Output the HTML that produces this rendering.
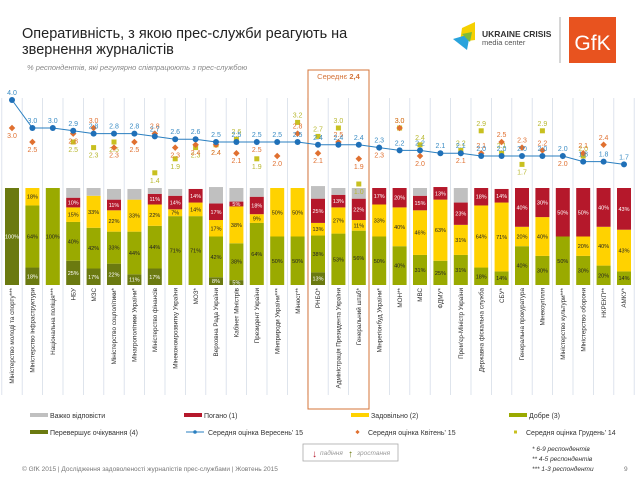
<!DOCTYPE html>
<html><head><meta charset="utf-8">
<style>
html,body{margin:0;padding:0;background:#fff;}
#wrap{position:relative;width:638px;height:479px;overflow:hidden;font-family:"Liberation Sans","DejaVu Sans",sans-serif;}
svg{position:absolute;left:0;top:0;}
</style></head>
<body>
<div id="wrap">
<svg id="chart" width="638" height="479" viewBox="0 0 638 479">
  <text x="22" y="38" font-size="14.5" fill="#222">Оперативність, з якою прес-служби реагують на</text>
  <text x="22" y="54" font-size="14.5" fill="#222">звернення журналістів</text>
  <text x="27" y="70" font-size="7.5" font-style="italic" fill="#888">% респондентів, які регулярно співпрацюють з прес-службою</text>
  <g>
    <polygon points="462,28 475,22 475,40 460,42" fill="#f5d000"/>
    <polygon points="453,39 470,34 467,50" fill="#29a3dc"/>
    <polygon points="462,34 472,32 470,42" fill="#7dbb3a"/>
    <text x="482" y="37" font-size="8.5" font-weight="bold" fill="#333">UKRAINE CRISIS</text>
    <text x="482" y="45" font-size="7.5" fill="#555">media center</text>
  </g>
  <line x1="560" y1="17" x2="560" y2="63" stroke="#999" stroke-width="0.8"/>
  <g>
    <rect x="569" y="17" width="47" height="46" fill="#e8531f"/>
    <text x="592.5" y="50" font-size="21" fill="#fff" text-anchor="middle">GfK</text>
  </g>
  <g id="grid"></g>
  <rect x="308" y="70" width="61" height="339" fill="none" stroke="#d4743a" stroke-width="1"/>
  <text x="338.5" y="79" font-size="7.5" fill="#d4743a" text-anchor="middle">Середнє <tspan font-weight="bold">2,4</tspan></text>
  <g id="bars"></g>
  <g id="lines"></g>
  <g id="labels"></g>
  <g font-size="7" fill="#333">
    <rect x="30" y="413" width="18" height="4" fill="#c0c0c0"/><text x="50" y="418">Важко відповісти</text>
    <rect x="184" y="413" width="18" height="4" fill="#b5182b"/><text x="204" y="418">Погано (1)</text>
    <rect x="351" y="413" width="18" height="4" fill="#ffd200"/><text x="371" y="418">Задовільно (2)</text>
    <rect x="509" y="413" width="18" height="4" fill="#9aaa00"/><text x="529" y="418">Добре (3)</text>
    <rect x="30" y="430" width="18" height="4" fill="#6b7a10"/><text x="50" y="435">Перевершує очікування (4)</text>
    <line x1="186" y1="432" x2="204" y2="432" stroke="#2a7fc0"/><circle cx="195" cy="432" r="1.8" fill="#2a7fc0"/><text x="208" y="435">Середня оцінка Вересень' 15</text>
    <rect x="356" y="430.5" width="3" height="3" fill="#e07030" transform="rotate(45 357.5 432)"/><text x="368" y="435">Середня оцінка Квітень' 15</text>
    <rect x="514" y="430.5" width="3" height="3" fill="#c8c020"/><text x="526" y="435">Середня оцінка  Грудень' 14</text>
  </g>
  <g>
    <rect x="303" y="444" width="95" height="17" fill="#fff" stroke="#aaa" stroke-width="0.8"/>
    <text x="312" y="457" font-size="10" fill="#b5182b">↓</text>
    <text x="320" y="455" font-size="6.5" font-style="italic" fill="#999">падіння</text>
    <text x="348" y="457" font-size="10" fill="#6b7a10">↑</text>
    <text x="357" y="455" font-size="6.5" font-style="italic" fill="#999">зростання</text>
  </g>
  <g font-size="6.5" font-style="italic" fill="#333">
    <text x="532" y="451">* 6-9 респондентів</text>
    <text x="532" y="461">** 4-5 респондентів</text>
    <text x="532" y="471">*** 1-3 респонденти</text>
  </g>
  <text x="22" y="471" font-size="6.5" fill="#777">© GfK 2015 | Дослідження задоволеності журналістів прес-службами | Жовтень 2015</text>
  <text x="624" y="471" font-size="6.5" fill="#777">9</text>
</svg>
</div>
<script>
const categories = ["Міністерство молоді та спорту***","Міністерство інфраструктури","Національна поліція***","НБУ","МЗС","Міністерство соцполітики*","Мінагрополітики України*","Міністерство фінансів","Мінекономрозвитку України","МОЗ*","Верховна Рада України","Кабінет Міністрів","Президент України","Мінприроди України***","Мінюст**","РНБО*","Адміністрація Президента України","Генеральний штаб*","Мінрегіонбуд України*","МОН**","МВС","ФДМУ*","Прем'єр-Міністр України","Державна фіскальна служба","СБУ*","Генеральна прокуратура","Мінекоугілля","Міністерство культури***","Міністерство оборони","НКРЕКП**","АМКУ*"];
const excellent = [100,18,0,25,17,22,11,17,0,0,8,5,0,0,0,13,0,0,0,0,0,0,0,0,0,0,0,0,0,0,0];
const good = [0,64,100,40,42,33,44,44,71,71,42,38,64,50,50,38,53,56,50,40,31,25,31,18,14,40,30,50,30,20,14];
const satisfactory = [0,18,0,15,33,22,33,22,7,14,17,38,9,50,50,13,27,11,33,40,46,63,31,64,71,20,40,0,20,40,43];
const bad = [0,0,0,10,0,11,0,11,14,14,17,5,18,0,0,25,13,22,17,20,15,13,23,18,14,40,30,50,50,40,43];
const hard = [0,0,0,10,8,11,11,6,7,0,17,14,9,0,0,13,7,11,0,0,8,0,15,0,0,0,0,0,0,0,0];
const sept15 = [4.0,3.0,3.0,2.9,2.8,2.8,2.8,2.7,2.6,2.6,2.5,2.5,2.5,2.5,2.5,2.4,2.4,2.4,2.3,2.2,2.2,2.1,2.1,2.0,2.0,2.0,2.0,2.0,1.8,1.8,1.7];
const apr15 = [3.0,2.5,null,2.8,3.0,2.3,2.5,2.8,2.3,2.4,2.4,2.1,2.5,2.0,2.8,2.1,2.5,1.9,2.3,3.0,2.0,null,2.1,2.1,2.5,2.3,2.2,2.0,2.1,2.4,null];
const dec14 = [null,null,null,2.5,2.3,2.5,null,1.4,1.9,2.3,2.4,2.6,1.9,null,3.2,2.7,3.0,1.0,null,3.0,2.4,null,2.2,2.9,2.1,1.7,2.9,null,2.0,null,null];

const NS="http://www.w3.org/2000/svg";
const x0=12, step=20.4, bw=14, barBottom=285, barH=97;
const xPos=i=>x0+i*step;
const yVal=v=>212-28*v;
const yPct=p=>p/100*barH;
function mk(tag,attrs,parent){const e=document.createElementNS(NS,tag);for(const k in attrs)e.setAttribute(k,attrs[k]);parent.appendChild(e);return e;}
const grid=document.getElementById('grid'),bars=document.getElementById('bars'),lines=document.getElementById('lines'),labels=document.getElementById('labels');
const fmt=v=>v.toFixed(1);

for(let i=0;i<=categories.length;i++){
  const gx=xPos(i)-step/2;
  const l=mk('line',{x1:gx,y1:98,x2:gx,y2:395,stroke:'#d6dde8','stroke-width':0.8},grid);
  
  
}

const segs=[[excellent,'#6b7a10','#fff','excellent'],[good,'#9aaa00','#222','good'],[satisfactory,'#ffd200','#222','satisfactory'],[bad,'#b5182b','#fff','bad'],[hard,'#c0c0c0','#222','hard']];
categories.forEach((c,i)=>{
  let y=barBottom;
  segs.forEach(([arr,col,tc,nm])=>{
    const v=arr[i]; if(!v) return;
    const h=yPct(v); y-=h;
    const r=mk('rect',{x:xPos(i)-bw/2,y:y,width:bw,height:h,fill:col},bars);
    
    
    if(nm!=='hard' && v>=5){
      const t=mk('text',{x:xPos(i),y:y+h/2+2,'font-size':5.5,'text-anchor':'middle',fill:tc},bars);
      t.textContent=v+'%';
      
      
    }
  });
  const t=mk('text',{x:0,y:0,'font-size':6.3,fill:'#333','text-anchor':'end',transform:`translate(${xPos(i)+2.2},288) rotate(-90)`},labels);
  t.textContent=c;
  
  
});

dec14.forEach((v,i)=>{ if(v==null)return;
  const s=mk('rect',{x:xPos(i)-2.5,y:yVal(v)-2.5,width:5,height:5,fill:'#c8c020'},lines);
  
  
  const t=mk('text',{x:xPos(i),y:yVal(v)+(v>=sept15[i]?-5:10),'font-size':7,'text-anchor':'middle',fill:'#b8b830'},lines);
  t.textContent=fmt(v);
  
  
});
apr15.forEach((v,i)=>{ if(v==null)return;
  const cx=xPos(i),cy=yVal(v);
  const s=mk('rect',{x:cx-2.3,y:cy-2.3,width:4.6,height:4.6,fill:'#e07030',transform:`rotate(45 ${cx} ${cy})`},lines);
  
  
  const t=mk('text',{x:cx,y:cy+(v>sept15[i]?-5:10),'font-size':7,'text-anchor':'middle',fill:'#e07030'},lines);
  t.textContent=fmt(v);
  
  
});
const pts=sept15.map((v,i)=>xPos(i)+','+yVal(v)).join(' ');
const pl=mk('polyline',{points:pts,fill:'none',stroke:'#2a7fc0','stroke-width':1},lines);


sept15.forEach((v,i)=>{
  const c=mk('circle',{cx:xPos(i),cy:yVal(v),r:3,fill:'#1f70b8'},lines);
  
  
  const t=mk('text',{x:xPos(i),y:yVal(v)-5,'font-size':7,'text-anchor':'middle',fill:'#3a8cc4'},lines);
  t.textContent=fmt(v);
  
  
});
</script>
</body></html>
